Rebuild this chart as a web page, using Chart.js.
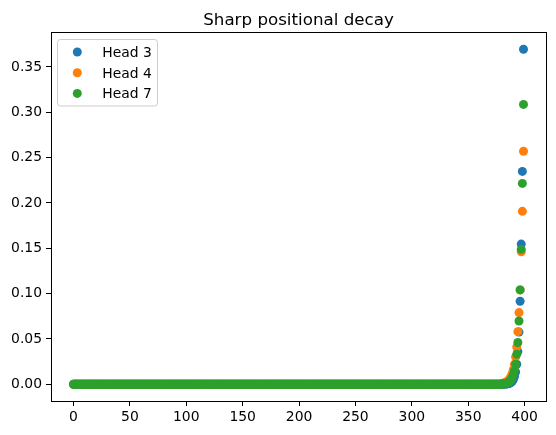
<!DOCTYPE html>
<html>
<head>
<meta charset="utf-8">
<script src="https://cdn.jsdelivr.net/npm/chart.js@4"></script>
<style>
  html, body { margin: 0; padding: 0; background: #fff; }
  #wrap { width: 556px; height: 435px; }
</style>
</head>
<body>
<div id="wrap"><canvas id="chart" width="556" height="435"></canvas></div>
<script>
// positions 0..379 read as 0.00 in the picture, the tail (380..399) rises
const flatCount = 380;

const head3Tail = [0.0000, 0.0001, 0.0001, 0.0002, 0.0003, 0.0005, 0.0008, 0.0012, 0.0020, 0.0032,
                   0.0052, 0.0085, 0.0135, 0.0220, 0.0360, 0.0575, 0.0915, 0.1546, 0.2347, 0.3695];
const head4Tail = [0.0007, 0.0010, 0.0014, 0.0019, 0.0026, 0.0035, 0.0048, 0.0065, 0.0088, 0.0120,
                   0.0160, 0.0220, 0.0300, 0.0410, 0.0580, 0.0790, 0.1040, 0.1460, 0.1907, 0.2570];
const head7Tail = [0.0003, 0.0004, 0.0006, 0.0008, 0.0012, 0.0017, 0.0025, 0.0036, 0.0051, 0.0073,
                   0.0105, 0.0150, 0.0220, 0.0330, 0.0460, 0.0698, 0.1040, 0.1488, 0.2215, 0.3086];

const seriesLabels = ['Head 3', 'Head 4', 'Head 7'];
const seriesColors = ['#1f77b4', '#ff7f0e', '#2ca02c'];

const xTicks = [0, 50, 100, 150, 200, 250, 300, 350, 400];
const yTicks = [0.00, 0.05, 0.10, 0.15, 0.20, 0.25, 0.30, 0.35];

const chartTitle = 'Sharp positional decay';
const FONT = "'DejaVu Sans', sans-serif";
const MARKER_R = 4.5;

function toPoints(tail) {
    const flat = new Array(flatCount).fill(0);
    return flat.concat(tail).map((v, i) => ({ x: i, y: v }));
}

const tails = [head3Tail, head4Tail, head7Tail];

const datasets = tails.map((tail, i) => ({
    label: seriesLabels[i],
    data: toPoints(tail),
    backgroundColor: seriesColors[i],
    borderColor: seriesColors[i],
    borderWidth: 0,
    pointRadius: MARKER_R,
    pointHoverRadius: MARKER_R,
    order: tails.length - i   // later series drawn on top, like matplotlib
}));

// frame, title and matplotlib style legend
const decorPlugin = {
    id: 'decor',
    afterDraw(chart) {
        const ctx = chart.ctx;
        const a = chart.chartArea;
        ctx.save();
        ctx.strokeStyle = '#000';
        ctx.lineWidth = 1;
        ctx.strokeRect(Math.round(a.left) + 0.5, Math.round(a.top) + 0.5,
                       Math.round(a.right - a.left), Math.round(a.bottom - a.top));

        ctx.fillStyle = '#000';
        ctx.font = '16.7px ' + FONT;
        ctx.textAlign = 'center';
        ctx.textBaseline = 'alphabetic';
        ctx.fillText(chartTitle, (a.left + a.right) / 2, 24.5);

        // legend box
        const bx = 57.5, by = 39.5, bw = 100, bh = 66.5, r = 3;
        ctx.beginPath();
        ctx.moveTo(bx + r, by);
        ctx.arcTo(bx + bw, by, bx + bw, by + bh, r);
        ctx.arcTo(bx + bw, by + bh, bx, by + bh, r);
        ctx.arcTo(bx, by + bh, bx, by, r);
        ctx.arcTo(bx, by, bx + bw, by, r);
        ctx.closePath();
        ctx.fillStyle = 'rgba(255,255,255,0.8)';
        ctx.fill();
        ctx.strokeStyle = '#cccccc';
        ctx.stroke();

        ctx.font = '13.9px ' + FONT;
        ctx.textAlign = 'left';
        ctx.textBaseline = 'alphabetic';
        seriesLabels.forEach((lbl, i) => {
            const cy = 52 + i * 20.7;
            ctx.beginPath();
            ctx.arc(77.3, cy, MARKER_R, 0, Math.PI * 2);
            ctx.fillStyle = seriesColors[i];
            ctx.fill();
            ctx.fillStyle = '#000';
            ctx.fillText(lbl, 102.3, cy + 5);
        });
        ctx.restore();
    }
};

new Chart(document.getElementById('chart'), {
    type: 'scatter',
    data: { datasets: datasets },
    options: {
        responsive: false,
        animation: false,
        devicePixelRatio: 1,
        layout: { padding: { top: 32, right: 10, left: 0, bottom: 0 } },
        plugins: {
            legend: { display: false },
            title: { display: false },
            tooltip: { enabled: false }
        },
        scales: {
            x: {
                type: 'linear',
                min: -19.95,
                max: 418.95,
                afterBuildTicks: s => { s.ticks = xTicks.map(v => ({ value: v })); },
                afterFit: s => { s.height = 34; },
                grid: { display: true, drawOnChartArea: false, drawTicks: true, tickLength: 5, tickColor: '#000' },
                border: { display: false },
                ticks: {
                    color: '#000',
                    padding: 3,
                    maxRotation: 0,
                    font: { family: FONT, size: 13.9 },
                    callback: v => String(v)
                }
            },
            y: {
                type: 'linear',
                min: -0.0185,
                max: 0.3885,
                afterBuildTicks: s => { s.ticks = yTicks.map(v => ({ value: v })); },
                afterFit: s => { s.width = 51; },
                grid: { display: true, drawOnChartArea: false, drawTicks: true, tickLength: 5, tickColor: '#000' },
                border: { display: false },
                ticks: {
                    color: '#000',
                    padding: 4,
                    font: { family: FONT, size: 13.9 },
                    callback: v => Number(v).toFixed(2)
                }
            }
        }
    },
    plugins: [decorPlugin]
});
</script>
</body>
</html>
